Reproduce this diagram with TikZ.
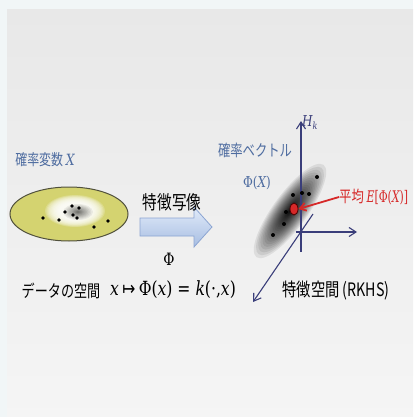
\documentclass[tikz,border=0pt]{standalone}
\usepackage{fontspec}
\usepackage{graphicx}
\usetikzlibrary{arrows.meta,shapes.geometric}
\newfontfamily\jp[FakeStretch=0.77]{Noto Sans CJK JP}
\newfontfamily\mf[FakeStretch=0.8]{DejaVu Serif}
\newfontfamily\arr[FakeStretch=0.8]{DejaVu Sans}
\definecolor{lblblue}{RGB}{78,108,160}
\definecolor{axisblue}{RGB}{58,62,122}
\definecolor{meanred}{RGB}{214,40,40}
\definecolor{ellfill}{RGB}{212,211,112}
\definecolor{elledge}{RGB}{80,80,60}
\definecolor{stripbg}{RGB}{241,246,247}
\definecolor{arrowtop}{RGB}{226,235,249}
\definecolor{arrowbot}{RGB}{166,189,226}
\definecolor{arrowedge}{RGB}{140,165,210}
\newcommand{\fsz}[1]{\jp\fontsize{#1}{#1}\selectfont}
\newcommand{\vi}[1]{{\mf\itshape #1}}
\newcommand{\vr}[1]{{\mf #1}}
\begin{document}
\begin{tikzpicture}[x=1pt,y=-1pt,
  lbl/.style={inner sep=0pt, text=black},
  axisline/.style={draw=axisblue, line width=1.1pt, -{Straight Barb[length=7pt,width=9pt]}},
  dot/.style={fill=black}]
\useasboundingbox (0,0) rectangle (413,417);
\clip (0,0) rectangle (413,417);
% background
\fill[stripbg] (0,0) rectangle (413,417);
\shade[top color=black!9, middle color=white!96!black, bottom color=black!4] (7,10) rectangle (413,417);
% left data space
\fill[ellfill, draw=elledge, line width=1pt] (69,214) ellipse (59 and 27);
\foreach \i in {0,...,11} {
  \pgfmathsetmacro\f{1-\i/24}
  \fill[white, opacity=0.2] (75,211) ellipse ({30*\f} and {16*\f});
}
\foreach \i in {0,...,13} {
  \pgfmathsetmacro\f{(1-\i/14)^1.5}
  \fill[black, opacity=0.06] (78,212) ellipse ({15*\f} and {8*\f});
}
\foreach \p in {(43,218),(59,220),(65,212),(72,206),(79,208),(73,215),(77,218),(94,227),(108,221)}
  \fill[dot] \p circle (1.9);
\node[lbl, text=lblblue, font=\fsz{15.5}] (rv) at (45,160) {確率変数 \vi{X}};
\node[lbl, font=\fsz{17}] (dspace) at (61,291) {データの空間};
% feature map arrow
\shade[top color=arrowtop, bottom color=arrowbot, draw=arrowedge, line width=0.8pt]
  (140,218) -- (194,218) -- (194,207) -- (212,227) -- (194,247) -- (194,236) -- (140,236) -- cycle;
\node[lbl, font=\fsz{19}] (fmap) at (172,202) {特徴写像};
\node[lbl, font=\fsz{17}] (phi) at (169,259) {\vr{Φ}};
\node[lbl, font=\fsz{19.5}] (formula) at (173,290) {\vi{x} {\arr ↦} \vr{Φ(}\vi{x}\vr{) = }\vi{k}\vr{(·,}\vi{x}\vr{)}};
% feature space cloud
\foreach \i in {0,...,33} {
  \pgfmathsetmacro\f{(1-\i/34)^2.2}
  \fill[black, opacity=0.08, rotate around={54:(290,211)}] (290,211) ellipse ({57*\f} and {17*\f});
}
% axes
\coordinate (vbot) at (301,252);
\coordinate (vtop) at (301,121);
\coordinate (hleft) at (296,232);
\coordinate (hright) at (357,232);
\coordinate (dtop) at (313,214);
\coordinate (dbot) at (253,302);
\draw[axisline] (vbot) -- (vtop);
\draw[axisline] (hleft) -- (hright);
\draw[axisline] (dtop) -- (dbot);
\node[lbl, text=axisblue, font=\fsz{15}, anchor=west] (Hk) at (302,123) {\vi{H}\raisebox{-3pt}{\fontsize{10}{10}\selectfont\vi{k}}};
\foreach \p in {(317,177),(293,195),(302,193),(309,194),(286,212),(284,224),(273,235)}
  \fill[dot] \p circle (2);
\node[draw=black!70!red, line width=0.8pt, fill=meanred, ellipse, minimum width=8pt, minimum height=12pt, inner sep=0pt] (mdot) at (294,209) {};
\node[lbl, text=lblblue, font=\fsz{16}] (rvec) at (255,150) {確率ベクトル};
\node[lbl, text=lblblue, font=\fsz{15}] (phiX) at (257,183) {\vr{Φ(}\vi{X}\vr{)}};
\node[lbl, text=meanred, font=\fsz{16}, anchor=west] (mean) at (339,197) {平均 \scalebox{0.85}[1]{\vi{E}\vr{[Φ(}\vi{X}\vr{)]}}};
\draw[meanred, line width=1.8pt, -{Straight Barb[length=6pt,width=8pt]}] (mean.west) -- (mdot.east);
\node[lbl, font=\fsz{18.5}] (fspace) at (336,291) {特徴空間 (RKHS)};
\end{tikzpicture}
\end{document}
